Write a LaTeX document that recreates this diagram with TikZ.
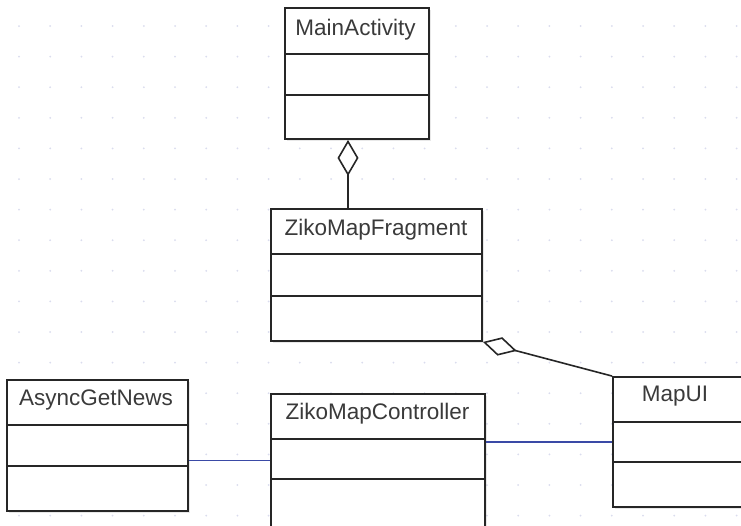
\documentclass[tikz,border=0pt]{standalone}
\usepackage{fontspec}
\setmainfont{Liberation Sans}
\usetikzlibrary{arrows.meta,calc,shadows}
\definecolor{ink}{HTML}{262626}
\definecolor{label}{HTML}{3A3A3A}
\definecolor{linkblue}{HTML}{3A4AA6}
\definecolor{griddot}{HTML}{DADCEE}
\begin{document}
\begin{tikzpicture}[x=1pt,y=-1pt,
  classbox/.style={draw=ink, line width=1.9pt, fill=white, rectangle, inner sep=0pt,
    drop shadow={shadow xshift=1.5pt, shadow yshift=-1.5pt, opacity=.18}},
  divider/.style={draw=ink, line width=1.7pt},
  classname/.style={font=\fontsize{22.5}{26}\selectfont, text=label, inner sep=0pt, anchor=base},
  assoc/.style={draw=linkblue, line width=1.4pt},
  aggregation/.style={draw=ink, line width=1.6pt, line join=miter,
    -{Diamond[open, length=#1]}},
]
\useasboundingbox (0,0) rectangle (741,525);
\fill[white] (0,0) rectangle (741,525);

% faint dotted drawing grid
\foreach \i in {0,...,23}
  \foreach \j in {0,...,16}
    \fill[griddot] (19+31.2*\i, 26+30.6*\j) circle (1pt);

% class boxes
\node[classbox, minimum width=144pt, minimum height=131pt] (main)  at (357,73.5)  {};
\node[classbox, minimum width=211pt, minimum height=132pt] (frag)  at (376.5,275) {};
\node[classbox, minimum width=181pt, minimum height=131pt] (async) at (97.5,445.5) {};
\node[classbox, minimum width=214pt, minimum height=133pt] (ctrl)  at (378,460.5) {};
\node[classbox, minimum width=135pt, minimum height=130pt] (mapui) at (680.5,442) {};

% compartments
\draw[divider] ($(main.north west)+(0,47)$) -- ++(144,0);
\draw[divider] ($(main.north west)+(0,88)$) -- ++(144,0);
\draw[divider] ($(frag.north west)+(0,46)$) -- ++(211,0);
\draw[divider] ($(frag.north west)+(0,88)$) -- ++(211,0);
\draw[divider] ($(async.north west)+(0,46)$) -- ++(181,0);
\draw[divider] ($(async.north west)+(0,87)$) -- ++(181,0);
\draw[divider] ($(ctrl.north west)+(0,46)$) -- ++(214,0);
\draw[divider] ($(ctrl.north west)+(0,86)$) -- ++(214,0);
\draw[divider] ($(mapui.north west)+(0,46)$) -- ++(135,0);
\draw[divider] ($(mapui.north west)+(0,86)$) -- ++(135,0);

% class names
\node[classname] (tmain)  at (355.5,35)  {MainActivity};
\node[classname] (tfrag)  at (376,235)   {ZikoMapFragment};
\node[classname] (tasync) at (96,405)    {AsyncGetNews};
\node[classname] (tctrl)  at (377.5,419) {ZikoMapController};
\node[classname] (tmapui) at (675,401.5) {MapUI};

% aggregations
\coordinate (mainagg) at ($(main.south)+(-9,0)$);
\draw[aggregation={36pt, width=21pt}] (mainagg |- frag.north) -- (mainagg);
\draw[aggregation={35pt, width=19pt}] (mapui.north west) -- (frag.south east);

% associations
\draw[assoc] (ctrl.west) -- (ctrl.west -| async.east);
\draw[assoc] (mapui.west) -- (mapui.west -| ctrl.east);
\end{tikzpicture}
\end{document}
